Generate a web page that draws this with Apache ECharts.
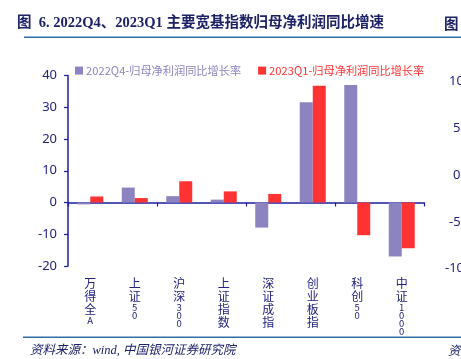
<!DOCTYPE html>
<html><head><meta charset="utf-8">
<script src="https://cdn.jsdelivr.net/npm/echarts@6/dist/echarts.min.js"></script>
<style>html,body{margin:0;padding:0;background:#fff}#c{width:461px;height:359px}</style>
</head><body><div id="c"></div>
<script>
const categories = ['万得全A','上证50','沪深300','上证指数','深证成指','创业板指','科创50','中证1000'];
const q4_2022 = [-0.6, 4.7, 2.0, 0.9, -7.9, 31.6, 37.0, -17.0];
const q1_2023 = [1.9, 1.4, 6.7, 3.5, 2.7, 36.8, -10.3, -14.4];
const seriesNames = ['2022Q4-归母净利润同比增长率', '2023Q1-归母净利润同比增长率'];
const yMin = -20, yMax = 40, yInterval = 10;
const nextChartTicks = ['10', '5', '0', '-5', '-10'];
const titleText = '图  6. 2022Q4、2023Q1 主要宽基指数归母净利润同比增速';
const sourceText = '资料来源：wind, 中国银河证券研究院';

const axisBlue = '#1c1ca0';
const labelBlue = '#23237e';
const navy = '#1d2266';
const purple = '#8b84c0';
const red = '#ff3333';
const ruleBlue = '#2f6ea6';

function vertLabel(v) {
  return v.split('').map(ch => /[\x00-\x7f]/.test(ch) ? '{d|' + ch + '}' : '{c|' + ch + '}').join('\n');
}

const chart = echarts.init(document.getElementById('c'), null, {renderer: 'canvas'});
const graphics = [
  {type: 'text', left: 17, top: 16, style: {text: titleText, font: 'bold 14.5px "Liberation Serif", "Noto Sans CJK SC", serif', fill: navy}},
  {type: 'text', left: 444, top: 16, style: {text: '图', font: 'bold 14.5px "Noto Sans CJK SC", serif', fill: navy}},
  {type: 'rect', shape: {x: 24, y: 36.5, width: 437, height: 1.6}, style: {fill: ruleBlue}},
  {type: 'rect', shape: {x: 23, y: 336.5, width: 438, height: 1.6}, style: {fill: ruleBlue}},
  {type: 'text', left: 30, top: 344, style: {text: sourceText, font: 'italic 12.5px "Liberation Serif", "Noto Sans CJK SC", serif', fill: navy}},
  {type: 'text', left: 448, top: 344, style: {text: '资', font: 'italic 12.5px "Noto Sans CJK SC", serif', fill: navy}}
];
nextChartTicks.forEach((t, i) => {
  graphics.push({type: 'text', left: 449 - (t.length - 2) * 4, top: 75 + i * 46.8,
    style: {text: t, font: '13px "Noto Sans", sans-serif', fill: labelBlue}});
});

chart.setOption({
  animation: false,
  textStyle: {fontFamily: '"Noto Sans CJK SC", "Noto Sans", sans-serif'},
  grid: {left: 68, right: 37, top: 75.5, bottom: 93},
  legend: {
    top: 60, left: 70, itemWidth: 8, itemHeight: 8, itemGap: 17,
    icon: 'rect',
    textStyle: {fontSize: 11.2, padding: [0, 0, 0, -2]},
    data: [
      {name: seriesNames[0], textStyle: {color: purple}},
      {name: seriesNames[1], textStyle: {color: red}}
    ]
  },
  xAxis: [
    {type: 'category', data: categories, position: 'bottom',
     axisLine: {onZero: true, lineStyle: {color: axisBlue, width: 1.5}},
     axisTick: {show: true, inside: false, length: 4, lineStyle: {color: axisBlue, width: 1.2}},
     axisLabel: {show: false}},
    {type: 'category', data: categories, position: 'bottom',
     axisLine: {show: false, onZero: false}, axisTick: {show: false},
     axisLabel: {show: true, interval: 0, margin: 11, color: labelBlue, verticalAlign: 'top',
       formatter: vertLabel,
       rich: {c: {fontSize: 12, lineHeight: 13, color: labelBlue}, d: {fontSize: 9.5, lineHeight: 8, color: labelBlue}}}}
  ],
  yAxis: {
    type: 'value', min: yMin, max: yMax, interval: yInterval,
    axisLine: {show: true, lineStyle: {color: axisBlue, width: 1.5}},
    axisTick: {show: true, length: 4, lineStyle: {color: axisBlue, width: 1.2}},
    axisLabel: {color: labelBlue, fontSize: 13, margin: 11, fontFamily: '"Noto Sans", sans-serif'},
    splitLine: {show: false}
  },
  series: [
    {name: seriesNames[0], type: 'bar', data: q4_2022, barWidth: 13, barGap: '0%', itemStyle: {color: purple}, xAxisIndex: 0},
    {name: seriesNames[1], type: 'bar', data: q1_2023, barWidth: 13, barGap: '0%', itemStyle: {color: red}, xAxisIndex: 0}
  ],
  graphic: graphics
});
</script>
</body></html>
